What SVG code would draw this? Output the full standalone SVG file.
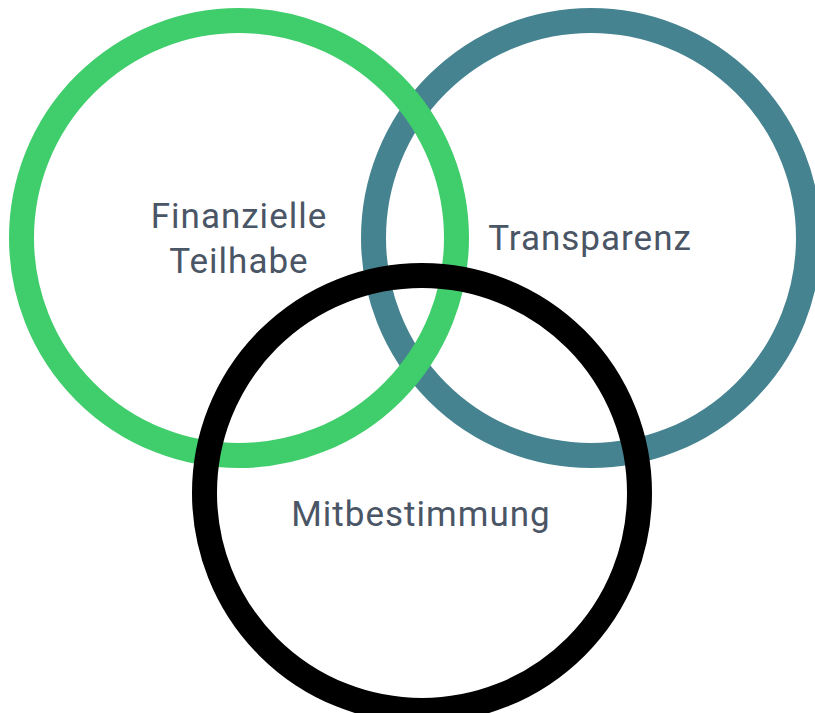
<svg xmlns="http://www.w3.org/2000/svg" width="815" height="713" viewBox="0 0 815 713">
<style>
.ring{fill:none;stroke-width:25}
.lbl{font-family:Roboto,"Liberation Sans",sans-serif;font-size:35px;fill:#4a5565;text-anchor:middle;letter-spacing:1px}
</style>
<rect width="815" height="713" fill="#ffffff"/>
<g id="transparenz">
<circle class="ring" cx="591" cy="238" r="217.5" stroke="#468390"/>
</g>
<g id="finanzielle-teilhabe">
<circle class="ring" cx="239" cy="238" r="217.5" stroke="#40cd6b"/>
</g>
<g id="mitbestimmung">
<circle class="ring" cx="422" cy="493" r="217.5" stroke="#000000"/>
</g>
<g id="labels">
<text class="lbl" x="239" y="228">Finanzielle</text>
<text class="lbl" x="239" y="273">Teilhabe</text>
<text class="lbl" x="590" y="250">Transparenz</text>
<text class="lbl" x="421" y="526">Mitbestimmung</text>
</g>
</svg>
